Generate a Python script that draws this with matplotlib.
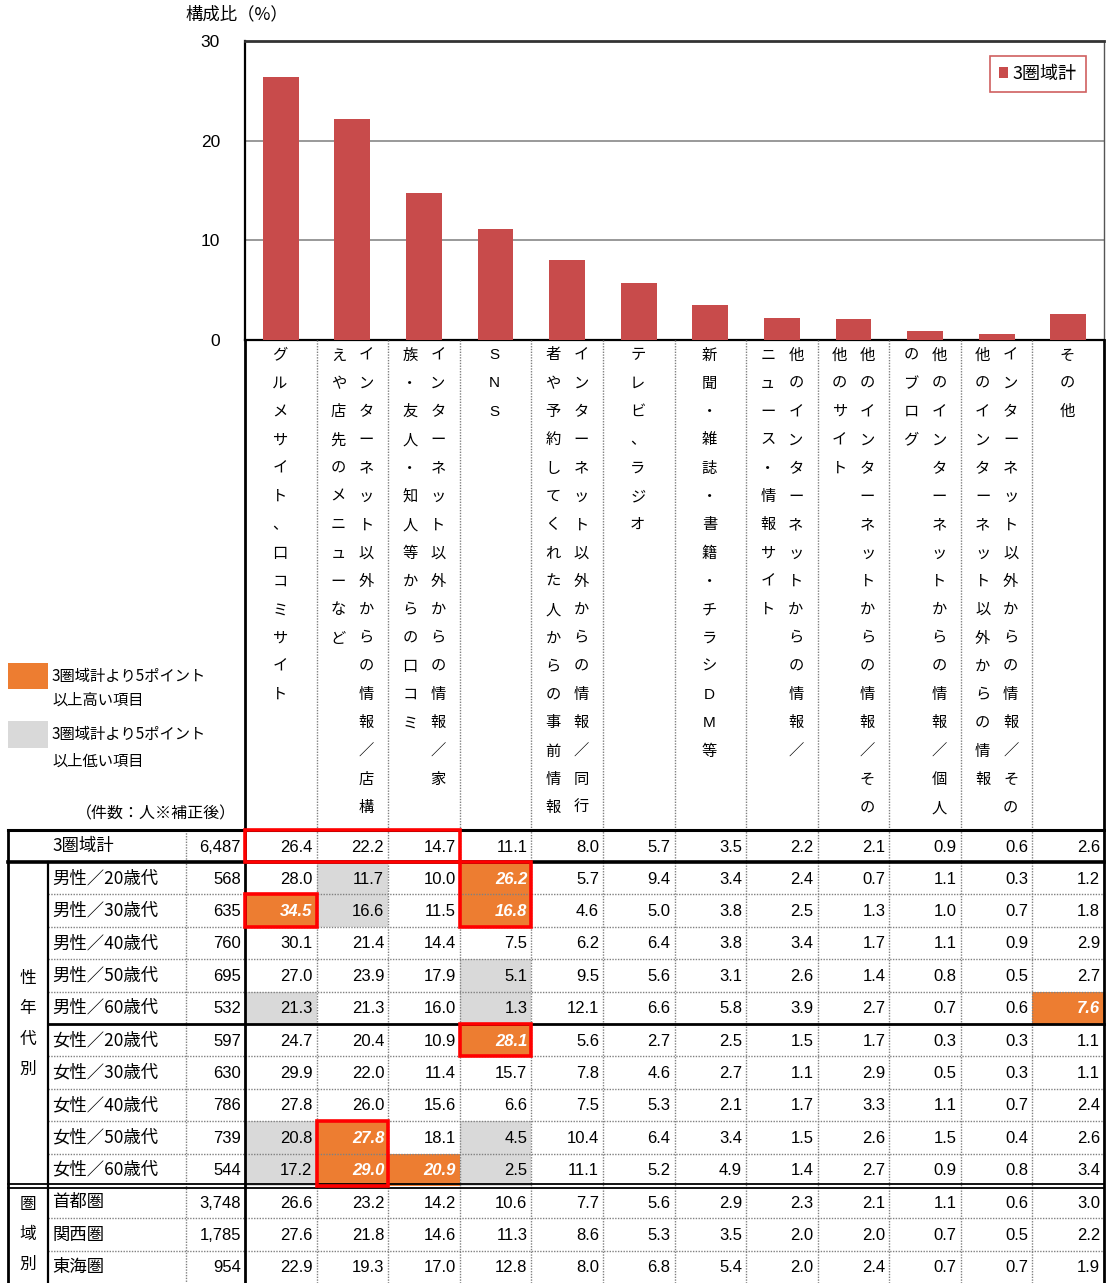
import matplotlib.pyplot as plt
from matplotlib.patches import Rectangle

JP = 'Noto Sans CJK JP'
NUM = 'Liberation Sans'
plt.rcParams['font.family'] = [JP, 'DejaVu Sans']

# header text for each category, one string per vertical text column (right to left)
header_cols = [
    ["グルメサイト、口コミサイト"],
    ["インターネット以外からの情報／店構", "えや店先のメニューなど"],
    ["インターネット以外からの情報／家", "族・友人・知人等からの口コミ"],
    ["SNS"],
    ["インターネット以外からの情報／同行", "者や予約してくれた人からの事前情報"],
    ["テレビ、ラジオ"],
    ["新聞・雑誌・書籍・チラシDM等"],
    ["他のインターネットからの情報／", "ニュース・情報サイト"],
    ["他のインターネットからの情報／その", "他のサイト"],
    ["他のインターネットからの情報／個人", "のブログ"],
    ["インターネット以外からの情報／その", "他のインターネット以外からの情報"],
    ["その他"],
]

row_labels = ["3圏域計",
              "男性／20歳代", "男性／30歳代", "男性／40歳代", "男性／50歳代", "男性／60歳代",
              "女性／20歳代", "女性／30歳代", "女性／40歳代", "女性／50歳代", "女性／60歳代",
              "首都圏", "関西圏", "東海圏"]
counts = ["6,487", "568", "635", "760", "695", "532", "597", "630", "786", "739", "544",
          "3,748", "1,785", "954"]

values = [
    [26.4, 22.2, 14.7, 11.1, 8.0, 5.7, 3.5, 2.2, 2.1, 0.9, 0.6, 2.6],
    [28.0, 11.7, 10.0, 26.2, 5.7, 9.4, 3.4, 2.4, 0.7, 1.1, 0.3, 1.2],
    [34.5, 16.6, 11.5, 16.8, 4.6, 5.0, 3.8, 2.5, 1.3, 1.0, 0.7, 1.8],
    [30.1, 21.4, 14.4, 7.5, 6.2, 6.4, 3.8, 3.4, 1.7, 1.1, 0.9, 2.9],
    [27.0, 23.9, 17.9, 5.1, 9.5, 5.6, 3.1, 2.6, 1.4, 0.8, 0.5, 2.7],
    [21.3, 21.3, 16.0, 1.3, 12.1, 6.6, 5.8, 3.9, 2.7, 0.7, 0.6, 7.6],
    [24.7, 20.4, 10.9, 28.1, 5.6, 2.7, 2.5, 1.5, 1.7, 0.3, 0.3, 1.1],
    [29.9, 22.0, 11.4, 15.7, 7.8, 4.6, 2.7, 1.1, 2.9, 0.5, 0.3, 1.1],
    [27.8, 26.0, 15.6, 6.6, 7.5, 5.3, 2.1, 1.7, 3.3, 1.1, 0.7, 2.4],
    [20.8, 27.8, 18.1, 4.5, 10.4, 6.4, 3.4, 1.5, 2.6, 1.5, 0.4, 2.6],
    [17.2, 29.0, 20.9, 2.5, 11.1, 5.2, 4.9, 1.4, 2.7, 0.9, 0.8, 3.4],
    [26.6, 23.2, 14.2, 10.6, 7.7, 5.6, 2.9, 2.3, 2.1, 1.1, 0.6, 3.0],
    [27.6, 21.8, 14.6, 11.3, 8.6, 5.3, 3.5, 2.0, 2.0, 0.7, 0.5, 2.2],
    [22.9, 19.3, 17.0, 12.8, 8.0, 6.8, 5.4, 2.0, 2.4, 0.7, 0.7, 1.9],
]

# row groups: (label, first row, last row)
groups = [("性年代別", 1, 10), ("圏域別", 11, 13)]

# outlined cells: (first row, last row, first col, last col)
red_boxes = [(0, 0, 0, 2), (2, 2, 0, 0), (1, 2, 3, 3), (6, 6, 3, 3), (9, 10, 1, 1)]

BAR = '#C84B4B'
HIGH = '#ED7D31'
LOW = '#D9D9D9'

W, H = 1106, 1283
fig = plt.figure(figsize=(W / 100, H / 100), dpi=100)

x_left, x_right = 245, 1104
y_top, y_base = 41, 340
ncol = len(header_cols)
cw = (x_right - x_left) / ncol

# bar chart of the overall row
ax = fig.add_axes([x_left / W, 1 - y_base / H, (x_right - x_left) / W, (y_base - y_top) / H])
ax.bar(range(ncol), values[0], width=0.5, color=BAR, label="3圏域計", zorder=3)
ax.set_xlim(-0.5, ncol - 0.5)
ax.set_ylim(0, 30)
ax.set_yticks([0, 10, 20, 30])
ax.set_xticks([])
ax.yaxis.grid(True, color='#999999', lw=1.4, zorder=0)
ax.tick_params(axis='y', length=0, pad=18, labelsize=12.5)
for t in ax.get_yticklabels():
    t.set_fontfamily(NUM)
ax.spines['top'].set_linewidth(2.0)
ax.spines['top'].set_color('#333333')
ax.spines['right'].set_linewidth(1.0)
ax.spines['right'].set_color('#555555')
ax.spines['left'].set_linewidth(1.6)
ax.spines['bottom'].set_linewidth(1.6)
leg = ax.legend(loc='upper right', bbox_to_anchor=(1086 / W, 1 - 56 / H),
                bbox_transform=fig.transFigure, borderaxespad=0, fancybox=False,
                edgecolor='#D06060', framealpha=1, handlelength=0.55, handleheight=0.6,
                handletextpad=0.25, borderpad=0.5, prop={'family': JP, 'size': 13})
leg.get_frame().set_linewidth(1.2)

# overlay in pixel coordinates for the header and table
tx = fig.add_axes([0, 0, 1, 1], zorder=5)
tx.set_xlim(0, W)
tx.set_ylim(H, 0)
tx.axis('off')
tx.patch.set_alpha(0)

tx.text(185, 14, "構成比（%）", ha='left', va='center', fontsize=12.5)

# vertical header text
char_y0, char_step = 355, 28.3
for c, cols in enumerate(header_cols):
    xc = x_left + cw * (c + 0.5)
    if len(cols) == 1:
        xs = [xc - 1]
    else:
        xs = [xc + 14, xc - 14]
    for xs_i, s in zip(xs, cols):
        for k, ch in enumerate(s):
            fam = NUM if ch.isascii() else JP
            tx.text(xs_i, char_y0 + k * char_step, ch, ha='center', va='center',
                    fontsize=11, family=fam)

# table geometry
edges = [830, 862] + [862 + 32.4 * i for i in range(1, len(row_labels))]
centers = [(edges[i] + edges[i + 1]) / 2 for i in range(len(row_labels))]
col_x = [x_left + cw * i for i in range(ncol + 1)]

total = values[0]
for r, row in enumerate(values):
    yc = centers[r]
    for c, v in enumerate(row):
        diff = round(v - total[c], 1) if r > 0 else 0
        style = dict(fontsize=12, family=NUM, ha='right', va='center')
        if diff >= 5:
            tx.add_patch(Rectangle((col_x[c], edges[r]), cw, edges[r + 1] - edges[r],
                                   color=HIGH, lw=0, zorder=1))
            style.update(color='white', fontweight='bold', fontstyle='italic')
        elif diff <= -5:
            tx.add_patch(Rectangle((col_x[c], edges[r]), cw, edges[r + 1] - edges[r],
                                   color=LOW, lw=0, zorder=1))
        tx.text(col_x[c + 1] - 4, yc + 1, f"{v:.1f}", zorder=4, **style)
    tx.text(241, yc + 1, counts[r], ha='right', va='center', fontsize=12, family=NUM)
    tx.text(52, yc, row_labels[r], ha='left', va='center', fontsize=12.5)

for label, r0, r1 in groups:
    mid = (edges[r0] + edges[r1 + 1]) / 2
    step = 30
    n = len(label)
    for k, ch in enumerate(label):
        tx.text(28, mid + (k - (n - 1) / 2) * step, ch, ha='center', va='center', fontsize=12)

# grid lines
dotted = dict(color='#808080', lw=1.0, ls=(0, (1, 1)), zorder=2)
solid = dict(color='black', zorder=3)
group_edges = {edges[1], edges[6], edges[11]}
for y in edges[2:-1]:
    if y in group_edges:
        continue
    tx.plot([48, x_right], [y, y], **dotted)
tx.plot([8, x_right], [edges[0], edges[0]], lw=2.2, **solid)
tx.plot([8, x_right], [edges[1], edges[1]], lw=2.6, **solid)
tx.plot([48, x_right], [edges[6], edges[6]], lw=2.0, **solid)
for dy in (-1.8, 1.8):
    tx.plot([8, x_right], [edges[11] + dy, edges[11] + dy], lw=1.3, **solid)

for x in col_x[1:-1]:
    tx.plot([x, x], [y_base, H], **dotted)
tx.plot([186, 186], [edges[0], H], **dotted)
tx.plot([8, 8], [edges[0], H], lw=2.0, **solid)
tx.plot([48, 48], [edges[1], H], lw=1.6, **solid)
tx.plot([x_left, x_left], [y_base, H], lw=2.0, **solid)
tx.plot([x_right, x_right], [y_base, H], lw=2.0, **solid)

# outlined cells
for r0, r1, c0, c1 in red_boxes:
    tx.add_patch(Rectangle((col_x[c0], edges[r0]), col_x[c1 + 1] - col_x[c0],
                           edges[r1 + 1] - edges[r0], fill=False, edgecolor='#FF0000',
                           lw=2.6, zorder=6))

# colour key
tx.add_patch(Rectangle((8, 663), 40, 26, color=HIGH, lw=0))
tx.add_patch(Rectangle((8, 721), 40, 27, color=LOW, lw=0))
for y, s in [(676, "3圏域計より5ポイント"), (700, "以上高い項目"),
             (734, "3圏域計より5ポイント"), (761, "以上低い項目")]:
    tx.text(52, y, s, ha='left', va='center', fontsize=11)
tx.text(236, 814, "（件数：人※補正後）", ha='right', va='center', fontsize=11.5)

fig.savefig("out.png", dpi=100)
